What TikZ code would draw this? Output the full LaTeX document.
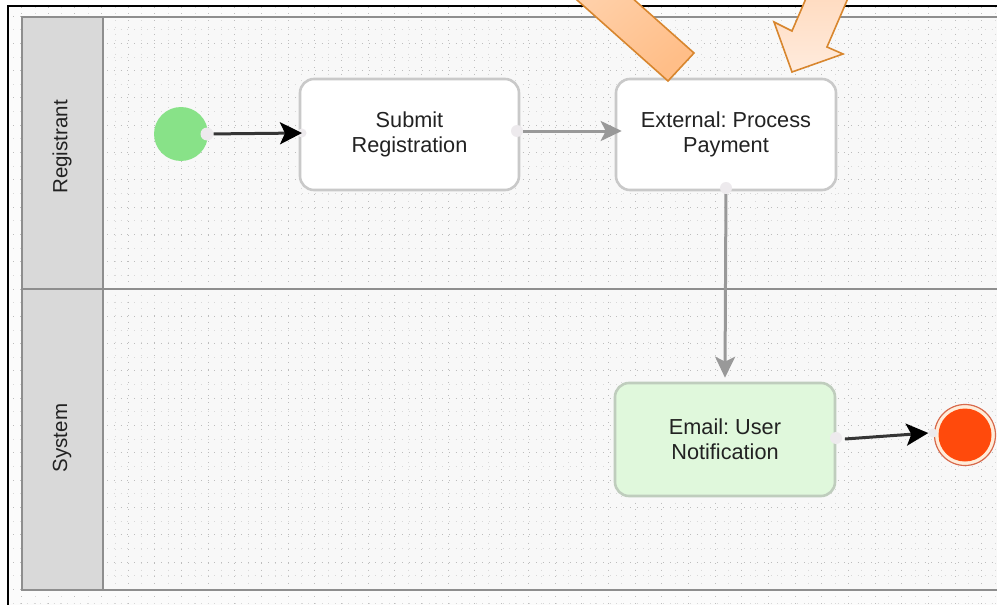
\documentclass[tikz,border=0pt]{standalone}
\usepackage{fontspec}
\setmainfont{Liberation Sans}
\usetikzlibrary{arrows.meta,shapes.geometric}
\frenchspacing

\definecolor{canvas}{HTML}{F8F8F8}
\definecolor{griddot}{HTML}{BDBDBD}
\definecolor{gridfaint}{HTML}{D8D8D8}
\definecolor{poolline}{HTML}{8E8E8E}
\definecolor{lanehead}{HTML}{D9D9D9}
\definecolor{taskline}{HTML}{C9C9C9}
\definecolor{emailfill}{HTML}{E0F8DC}
\definecolor{emailline}{HTML}{BFCDBD}
\definecolor{startgreen}{HTML}{88E288}
\definecolor{endred}{HTML}{FF4A0C}
\definecolor{endring}{HTML}{D86A4C}
\definecolor{portdot}{HTML}{EDEAED}
\definecolor{flowgray}{HTML}{999999}
\definecolor{flowdark}{HTML}{353535}
\definecolor{textdark}{HTML}{222222}
\definecolor{calloutline}{HTML}{D8862E}
\definecolor{calloutA}{HTML}{FFD6B4}
\definecolor{calloutB}{HTML}{FFBE88}
\definecolor{calloutC}{HTML}{FFEBDD}
\definecolor{calloutD}{HTML}{FFD9BC}

\tikzset{
  task/.style={draw=taskline, line width=2.6pt, rounded corners=14pt, fill=white,
    minimum width=219pt, minimum height=111pt, align=center, text=textdark,
    font=\fontsize{21.7}{25}\selectfont, inner sep=0pt},
  lanelabel/.style={rotate=90, text=textdark, font=\fontsize{20.5}{24}\selectfont, inner sep=0pt},
  port/.style={circle, fill=portdot, minimum size=12pt, inner sep=0pt},
  flowblack/.style={draw=flowdark, line width=3pt,
    -{Stealth[length=22pt,width=22pt,inset=5pt,fill=black,color=black]}},
  flowgrey/.style={draw=flowgray, line width=3pt,
    -{Stealth[length=21pt,width=20pt,inset=5pt]}},
  callout/.style={draw=calloutline, line width=1.6pt, line join=miter},
}

\begin{document}
\begin{tikzpicture}[x=1pt,y=-1pt]
\useasboundingbox (0,0) rectangle (997,605);
\clip (0,0) rectangle (997,605);

% page and canvas
\fill[white] (0,0) rectangle (997,605);
\fill[canvas!60!white] (8,6) rectangle (1000,610);
\fill[canvas] (22,17) rectangle (1000,590);

% dotted drawing grid
\begin{scope}
  \clip (9,7) rectangle (1000,610);
  \foreach \i in {0,...,37} {
    \draw[gridfaint, line width=0.8pt, dash pattern=on 0.8pt off 5.9pt]
      (21.6+26.67*\i+13.3,0) -- (21.6+26.67*\i+13.3,610);
    \draw[griddot, line width=1pt, dash pattern=on 1pt off 5.7pt]
      (21.6+26.67*\i,0) -- (21.6+26.67*\i,610);
  }
  \foreach \j in {0,...,22} {
    \draw[gridfaint, line width=0.8pt, dash pattern=on 0.8pt off 5.9pt]
      (0,16+27.3*\j+13.6) -- (1000,16+27.3*\j+13.6);
    \draw[griddot, line width=1pt, dash pattern=on 1pt off 5.7pt]
      (0,16+27.3*\j) -- (1000,16+27.3*\j);
  }
\end{scope}

% pool with two lanes
\fill[lanehead] (22,17) rectangle (103,590);
\draw[poolline, line width=1.5pt] (1000,17) -- (22,17) -- (22,590) -- (1000,590);
\draw[poolline, line width=1.5pt] (103,17) -- (103,590);
\draw[poolline, line width=1.5pt] (22,289) -- (1000,289);
\node[lanelabel] (laneA) at (62,147) {Registrant};
\node[lanelabel] (laneB) at (62,438) {System};

% events and tasks
\node[circle, fill=startgreen, minimum size=54pt, inner sep=0pt] (start) at (181,134) {};
\node[task] (submit) at (409.5,134.5) {Submit\\Registration};
\node[task, minimum width=220pt] (payment) at (726,134.5) {External: Process\\Payment};
\node[task, minimum width=220pt, minimum height=113pt, fill=emailfill, draw=emailline]
  (email) at (725,439.5) {Email: User\\Notification};
\node[circle, draw=endring, line width=1.2pt, fill=white!85!orange, minimum size=61pt,
  inner sep=0pt] (endring) at (965,435) {};
\node[circle, fill=endred, minimum size=53pt, inner sep=0pt] (end) at (965,435) {};

% connection ports
\node[port, minimum size=13pt] (p1) at (207,134) {};
\node[port, minimum size=9pt] (p1b) at (302,133) {};
\node[port] (p2) at (517,131) {};
\node[port] (p3) at (726,188) {};
\node[port] (p4) at (836,438) {};
\node[port, minimum size=9pt] (p5) at (933,433) {};

% sequence flows
\draw[flowblack] (p1) -- (p1b.center);
\draw[flowgrey] (p2) -- ([xshift=7pt]p2 -| payment.west);
\draw[flowgrey] (p3) -- ([yshift=4pt]email.north);
\coordinate (p4out) at (845,439);
\draw[flowblack] (p4out) -- (p5.west);

% outer frame
\draw[black, line width=2pt] (8,620) -- (8,6) -- (1005,6);

% callout arrows
\shade[callout, left color=calloutA, right color=calloutB, shading angle=40]
  (668,81) -- (694,53) -- (575.7,-52.3) -- (549.7,-24.3) -- cycle;
\shade[callout, top color=calloutD, bottom color=calloutC]
  (792,72) -- (774,22) -- (792,31) -- (812.2,-16) -- (854.1,-16) -- (827,47) -- (843,54) -- cycle;
\end{tikzpicture}
\end{document}
